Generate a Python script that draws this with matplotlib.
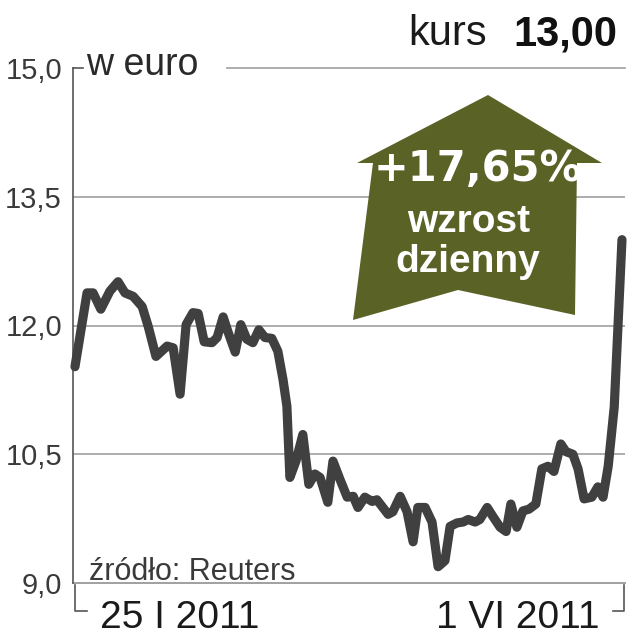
import numpy as np
import matplotlib
matplotlib.use("Agg")
import matplotlib.pyplot as plt
from matplotlib.patches import Polygon
from matplotlib.lines import Line2D

#-----------------------------------------------------------
# data (days since 25 I 2011, price in euro)
days = [0, 2.8, 4.2, 6.0, 8.1, 10.0, 11.6, 13.5, 15.6, 17.0,
        18.8, 21.4, 22.8, 24.4, 25.8, 27.4, 28.6, 30.0, 31.8, 33.0,
        34.4, 35.5, 37.2, 38.5, 39.9, 41.3, 42.7, 44.1, 45.7, 47.1,
        48.3, 49.2, 49.9, 51.3, 52.9, 54.3, 55.7, 56.9, 58.7, 59.9,
        61.5, 63.2, 64.6, 65.7, 67.3, 69.0, 70.1, 72.7, 73.8, 75.5,
        77.1, 78.5, 79.6, 81.3, 82.9, 84.3, 85.9, 87.1, 88.7, 90.1,
        91.3, 92.9, 94.0, 95.7, 97.1, 98.7, 100.1, 101.2, 102.6, 104.0,
        105.4, 107.0, 108.4, 109.8, 111.2, 112.8, 114.0, 115.6, 116.8, 118.2,
        120.0, 121.4, 122.6, 123.8, 125.2, 127.0]
price = [11.52, 12.38, 12.38, 12.19, 12.40, 12.51, 12.38, 12.34, 12.22, 11.99,
         11.64, 11.76, 11.74, 11.20, 12.01, 12.15, 12.14, 11.81, 11.80, 11.86,
         12.10, 11.93, 11.69, 12.01, 11.84, 11.80, 11.95, 11.86, 11.85, 11.70,
         11.37, 11.06, 10.23, 10.42, 10.73, 10.15, 10.27, 10.23, 9.94, 10.42,
         10.21, 10.00, 10.01, 9.88, 10.00, 9.95, 9.97, 9.80, 9.83, 10.01,
         9.83, 9.48, 9.88, 9.88, 9.71, 9.19, 9.26, 9.66, 9.70, 9.71,
         9.74, 9.71, 9.74, 9.88, 9.77, 9.65, 9.60, 9.92, 9.65, 9.84,
         9.86, 9.92, 10.33, 10.36, 10.30, 10.62, 10.53, 10.50, 10.33, 9.98,
         10.00, 10.12, 10.00, 10.36, 11.05, 13.00]
yticks = [9.0, 10.5, 12.0, 13.5, 15.0]
ytick_labels = ["9,0", "10,5", "12,0", "13,5", "15,0"]
date_labels = ["25 I 2011", "1 VI 2011"]
unit_label = "w euro"
source_label = "źródło: Reuters"
kurs_label = "kurs"
kurs_value = "13,00"
change_label = "+17,65%"
change_text = ["wzrost", "dzienny"]

#-----------------------------------------------------------
W, H = 627, 640
plt.rcParams['font.family'] = ['Liberation Sans', 'DejaVu Sans']
fig = plt.figure(figsize=(W / 100, H / 100), dpi=100)

def px(x, y):
  # pixel position (from top-left) -> figure fraction
  return x / W, 1 - y / H

ax_l, ax_r, ax_t, ax_b = 73, 625, 68, 583
ax = fig.add_axes([ax_l / W, 1 - ax_b / H, (ax_r - ax_l) / W, (ax_b - ax_t) / H])
ax.set_xlim(-0.46, 127.7)
ax.set_ylim(9.0, 15.0)

grid_col = "#a0a0a0"
for v in [10.5, 12.0, 13.5]:
  ax.axhline(v, color=grid_col, lw=1.2, zorder=1)
ax.axhline(9.0, color=grid_col, lw=1.4, zorder=1, clip_on=False)
# top gridline broken by the unit label
ax.axhline(15.0, xmin=0, xmax=(83 - ax_l) / (ax_r - ax_l), color="#555555", lw=1.2, clip_on=False)
ax.axhline(15.0, xmin=(227 - ax_l) / (ax_r - ax_l), xmax=1, color=grid_col, lw=1.2, clip_on=False)

ax.plot(days, price, color="#404040", lw=6.6, solid_joinstyle="round",
        solid_capstyle="round", zorder=3, clip_on=False)

for s in ["top", "right", "bottom"]:
  ax.spines[s].set_visible(False)
ax.spines["left"].set_color("#555555")
ax.spines["left"].set_linewidth(1.2)
ax.set_xticks([])
ax.set_yticks(yticks)
ax.set_yticklabels(ytick_labels, fontsize=21, color="#3a3a3a")
ax.tick_params(axis="y", length=0, pad=8)

#-----------------------------------------------------------
# brackets under the time axis
fig.add_artist(Line2D([75 / W, 75 / W, 87 / W], [1 - 585 / H, 1 - 611 / H, 1 - 611 / H],
                      color="#555555", lw=1.2))
fig.add_artist(Line2D([613 / W, 624 / W, 624 / W], [1 - 611 / H, 1 - 611 / H, 1 - 585 / H],
                      color="#555555", lw=1.2))

#-----------------------------------------------------------
# arrow
arrow_pts = [px(488, 95), px(602, 163), px(577, 163), px(575, 315), px(458, 290),
             px(353, 320), px(373, 163), px(357, 163)]
fig.add_artist(Polygon(arrow_pts, closed=True, facecolor="#5a6226", edgecolor="none",
                       transform=fig.transFigure, zorder=4))

#-----------------------------------------------------------
# texts
fig.text(*px(86, 75), unit_label, fontsize=27, color="#2a2a2a", va="baseline", ha="left")
fig.text(*px(89, 580), source_label, fontsize=22, color="#3a3a3a", va="baseline", ha="left")
fig.text(*px(100, 628), date_labels[0], fontsize=28, color="#1a1a1a", va="baseline", ha="left")
fig.text(*px(600, 628), date_labels[1], fontsize=28, color="#1a1a1a", va="baseline", ha="right")
fig.text(*px(487, 45), kurs_label, fontsize=30, color="#1a1a1a", va="baseline", ha="right")
fig.text(*px(617, 45), kurs_value, fontsize=30, fontweight="bold", color="#111111",
         va="baseline", ha="right")
fig.text(*px(478, 181), change_label, fontsize=30, fontweight="bold", color="white",
         family="DejaVu Sans", va="baseline", ha="center", zorder=5)
fig.text(*px(469, 232), change_text[0], fontsize=28, fontweight="bold", color="white",
         va="baseline", ha="center", zorder=5)
fig.text(*px(468, 272), change_text[1], fontsize=28, fontweight="bold", color="white",
         va="baseline", ha="center", zorder=5)

plt.savefig("out.png", dpi=100)
